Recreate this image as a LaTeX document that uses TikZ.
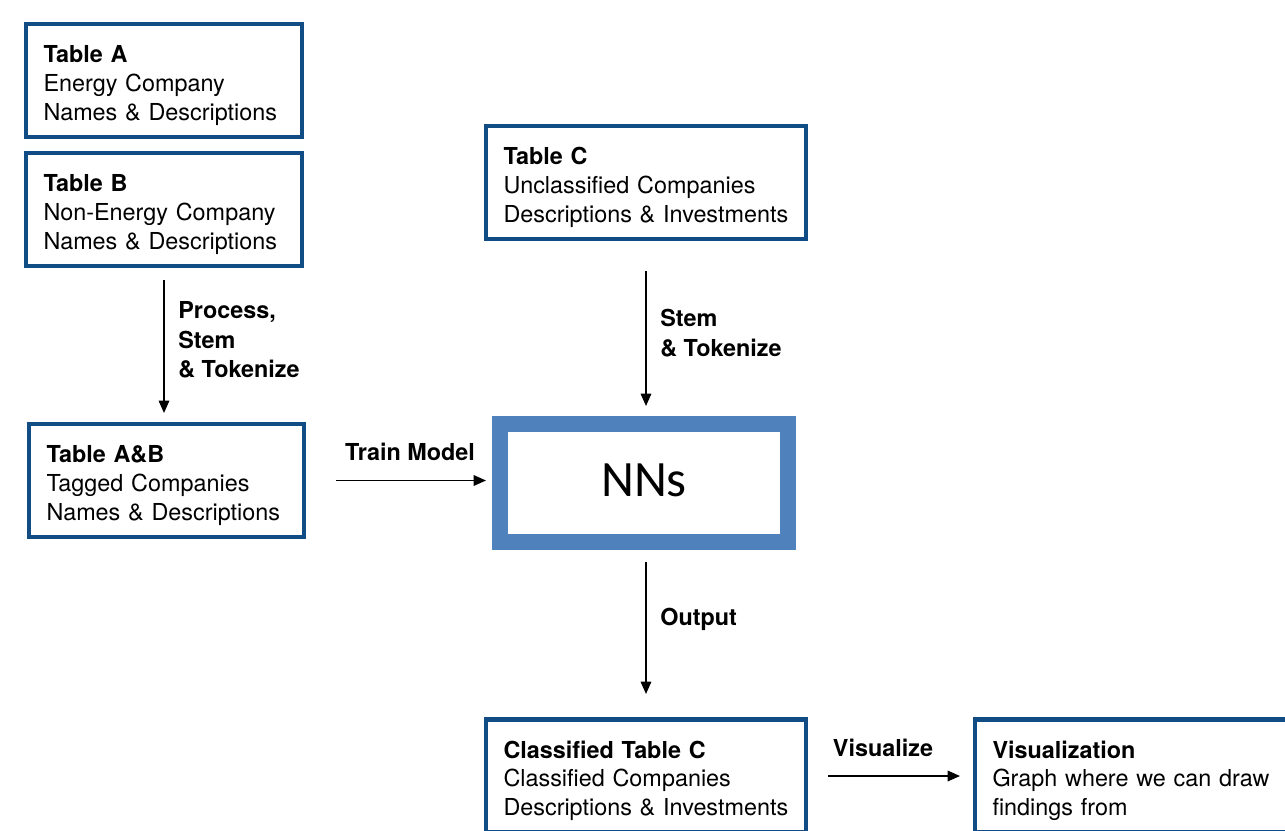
\documentclass[tikz,border=0pt]{standalone}
\usepackage{fontspec}
\setmainfont{TeX Gyre Heros}
\newfontfamily\nnfont{Carlito}
\usetikzlibrary{arrows.meta,positioning}
\definecolor{tabblue}{RGB}{17,76,133}
\definecolor{nnblue}{RGB}{79,129,189}
\tikzset{
	tablebox/.style={draw=tabblue, line width=2.3pt, align=left, inner xsep=0.35cm, inner ysep=0pt, text width=#1, minimum height=2.26cm, font=\fontsize{13.3}{16.4}\selectfont, execute at begin node={\rule{0pt}{15.2pt}}},
	nnbox/.style={draw=nnblue, line width=0.32cm, minimum width=5.76cm, minimum height=2.36cm, text depth=0.12cm, font=\nnfont\fontsize{29}{34}\selectfont},
	flow/.style={-{Triangle[length=7pt,width=6pt]}, line width=0.85pt},
	steplabel/.style={font=\bfseries\fontsize{13.3}{16.8}\selectfont, align=left, inner sep=0pt},
}

\begin{document}
\begin{tikzpicture}
	\useasboundingbox (0,0) rectangle (25.7,-16.6);
	\clip (0,0) rectangle (25.7,-16.6);
	\node[tablebox=4.82cm] (ta) at (3.28,-1.61) {\textbf{Table A}\\Energy Company\\Names \& Descriptions};
	\node[tablebox=4.82cm] (tb) at (3.28,-4.19) {\textbf{Table B}\\Non-Energy Company\\Names \& Descriptions};
	\node[tablebox=4.80cm] (tab) at (3.33,-9.61) {\textbf{Table A\&B}\\Tagged Companies\\Names \& Descriptions};
	\node[tablebox=5.70cm] (tc) at (12.92,-3.65) {\textbf{Table C}\\Unclassified Companies\\Descriptions \& Investments};
	\node[nnbox] (nn) at (12.88,-9.66) {NNs};
	\node[tablebox=5.70cm] (ctc) at (12.92,-15.52) {\textbf{Classified Table C}\\Classified Companies\\Descriptions \& Investments};
	\node[tablebox=5.70cm] (vis) at (22.70,-15.52) {\textbf{Visualization}\\Graph where we can draw\\findings from};

	\draw[flow, shorten <=0.24cm, shorten >=0.18cm] (tb.south) -- (tb.south |- tab.north);
	\draw[flow, shorten <=0.60cm, shorten >=0.20cm] (tc.south) -- (tc.south |- nn.north);
	\draw[flow, shorten <=0.60cm, shorten >=0.12cm] (tab.east) -- (tab.east -| nn.west);
	\draw[flow, shorten <=0.24cm, shorten >=0.47cm] (nn.south -| ctc.north) -- (ctc.north);
	\draw[flow, shorten <=0.40cm, shorten >=0.26cm] (ctc.east) -- (ctc.east -| vis.west);

	\node[steplabel, anchor=west] (lproc) at (3.56,-6.80) {Process,\\Stem\\\& Tokenize};
	\node[steplabel, anchor=west] (lstem) at (13.20,-6.66) {Stem\\\& Tokenize};
	\node[steplabel] (ltrain) at (8.20,-9.04) {Train Model};
	\node[steplabel, anchor=west] (lout) at (13.20,-12.38) {Output};
	\node[steplabel] (lvis) at (17.66,-14.96) {Visualize};
\end{tikzpicture}
\end{document}
